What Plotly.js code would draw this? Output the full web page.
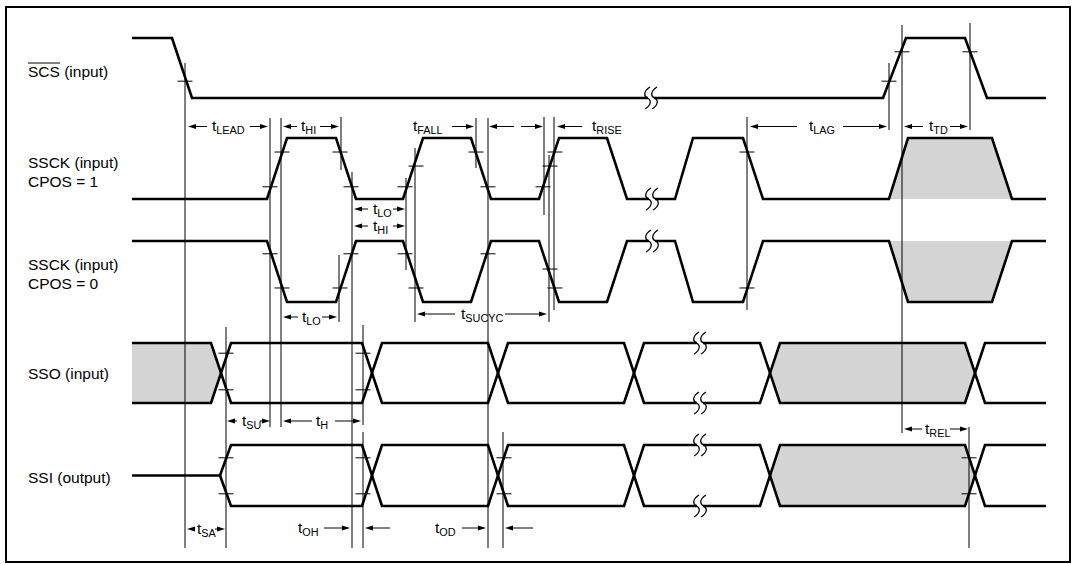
<!DOCTYPE html>
<html>
<head>
<meta charset="utf-8">
<script src="https://cdn.plot.ly/plotly-3.0.1.min.js"></script>
<style>html,body{margin:0;padding:0;background:#fff;}#chart{width:1076px;height:564px;}</style>
</head>
<body>
<div id="chart"></div>
<script>
// ================= DATA (times on the horizontal time axis, logic levels) =================
const scsTimes    = [132, 172, 192, 883, 906, 965, 987, 1046];
const scsLevels   = [1, 1, 0, 0, 1, 1, 0, 0];

const ssckTimes   = [132, 267, 287, 336, 356, 403, 423, 471, 491, 539, 559, 607, 627, 675, 693, 743, 763, 889, 908, 992, 1012, 1046];
const ssck1Levels = [0, 0, 1, 1, 0, 0, 1, 1, 0, 0, 1, 1, 0, 0, 1, 1, 0, 0, 1, 1, 0, 0];
const ssck0Levels = [1, 1, 0, 0, 1, 1, 0, 0, 1, 1, 0, 0, 1, 1, 0, 0, 1, 1, 0, 0, 1, 1];
const ssckShadeFrom = 889, ssckShadeTo = 1012;          // don't-care clock pulse

const busStart = 132, busEnd = 1046;
const ssoCross  = [211, 362, 488, 624, 760, 965];        // start of each data change
const ssoShaded = [1, 0, 0, 0, 0, 1, 0];                 // per data segment
const ssiLeaveZ = 220;                                   // SSI leaves high impedance
const ssiCross  = [362, 488, 624, 760, 965];
const ssiShaded = [0, 0, 0, 0, 1, 0];

const breakTimes = [651, 652, 652, 700, 700, 700, 700];
const breakRows  = ['scs', 'ssck1', 'ssck0', 'sso', 'sso', 'ssi', 'ssi'];
const breakLevel = [0, 0, 1, 1, 0, 1, 0];

const signalNames = ['SCS (input)', 'SSCK (input)', 'CPOS = 1', 'SSCK (input)', 'CPOS = 0', 'SSO (input)', 'SSI (output)'];

// threshold crossing marks: time, row, threshold
const markTimes = [185, 889, 902, 970,
  270, 282, 340, 351, 405, 416, 476, 488, 543, 550, 555, 747,
  270, 282, 340, 351, 405, 416, 488, 550, 555, 747,
  226, 226, 363, 363,
  226, 226, 363, 363, 504, 504, 969, 969];
const markRows = ['scs','scs','scs','scs',
  'ssck1','ssck1','ssck1','ssck1','ssck1','ssck1','ssck1','ssck1','ssck1','ssck1','ssck1','ssck1',
  'ssck0','ssck0','ssck0','ssck0','ssck0','ssck0','ssck0','ssck0','ssck0','ssck0',
  'sso','sso','sso','sso',
  'ssi','ssi','ssi','ssi','ssi','ssi','ssi','ssi'];
const markTh = ['L','L','H','H',
  'L','H','H','L','L','M','H','L','L','M','H','H',
  'H','L','L','H','H','L','H','M','L','L',
  'H','L','H','L',
  'H','L','H','L','H','L','H','L'];

// timing reference lines (times)
const refTimes = [185, 270, 281, 341, 352, 339, 406, 363, 363, 415, 476, 488, 544, 549, 554, 747, 889, 902, 970, 226, 503, 969];

// timing parameters: label subscript, arrow pairs [tail, tip]
const paramNames = ['LEAD', 'HI', 'FALL', 'RISE', 'LAG', 'TD', 'LO', 'HI', 'LO', 'SUCYC', 'SU', 'H', 'REL', 'SA', 'OH', 'OD'];
const paramArrows = [
  [[207, 188], [250, 268]],
  [[297, 283], [320, 339]],
  [[452, 474], [514, 489], [521, 543]],
  [[582, 557]],
  [[797, 750], [843, 887]],
  [[923, 904], [950, 968]],
  [[368, 354], [393, 405]],
  [[368, 354], [393, 405]],
  [[298, 283], [322, 337]],
  [[455, 417], [505, 547]],
  [[237, 227], [260, 270]],
  [[312, 283], [335, 361]],
  [[922, 904], [950, 968]],
  [[195, 187], [215, 225]],
  [[324, 350], [390, 365]],
  [[462, 486], [533, 505]]
];

// ================= LAYOUT / STYLE (positions in the drawing) =================
const rows = {scs: [38, 98], ssck1: [138, 199], ssck0: [241, 302], sso: [343, 403], ssi: [445, 506]};
const thFrac = {
  scs:   {H: 0.77, M: 0.5, L: 0.28},
  ssck1: {H: 0.77, M: 0.54, L: 0.2},
  ssck0: {H: 0.79, M: 0.54, L: 0.23},
  sso:   {H: 0.83, M: 0.5, L: 0.22},
  ssi:   {H: 0.79, M: 0.5, L: 0.2}
};
const refSpans = [[63,548],[118,427],[118,427],[117,170],[172,548],[255,322],[178,270],[325,425],[432,548],[148,322],[118,168],[118,548],[117,215],[155,322],[117,310],[117,310],[63,130],[25,433],[23,130],[327,548],[432,548],[427,548]];
const paramLabelX = [228, 308.5, 428, 606.5, 821.5, 938, 382, 380, 311.5, 482, 251, 322, 937.5, 206.5, 308.5, 445.5];
const paramRowY   = [126.5, 126.5, 126.5, 126.5, 126.5, 126.5, 209, 226, 317, 314, 421, 421, 429, 529, 528, 528];
const nameX = 26;
const nameY = [71, 162, 181, 264, 283, 373, 477];

const BLACK = '#000';
const GRAY = '#d4d4d4';
const WAVE_W = 2.6;
const FONT_FAMILY = 'Liberation Sans, Arial, Helvetica, sans-serif';
const EDGE = 20;

function lvY(rowKey, v) { const r = rows[rowKey]; return v ? r[0] : r[1]; }
function thY(rowKey, th) { const r = rows[rowKey]; return r[1] - thFrac[rowKey][th] * (r[1] - r[0]); }

const traces = [];
const shapes = [];
const annotations = [];

// ---------- shaded regions ----------
function ssckShade(levels, rowKey) {
  const x = [], y = [];
  ssckTimes.forEach((t, i) => { if (t >= ssckShadeFrom && t <= ssckShadeTo) { x.push(t); y.push(lvY(rowKey, levels[i])); } });
  traces.push({x, y, mode: 'lines', fill: 'toself', fillcolor: GRAY, line: {width: 0, color: GRAY}, hoverinfo: 'skip'});
}
ssckShade(ssck1Levels, 'ssck1');
ssckShade(ssck0Levels, 'ssck0');

function busShade(cross, shaded, rowKey, segStart) {
  const [hi, lo] = rows[rowKey]; const mid = (hi + lo) / 2;
  shaded.forEach((s, i) => {
    if (!s) return;
    const x = [], y = [];
    if (i === 0) { x.push(segStart); y.push(hi); }
    else { x.push(cross[i-1] + EDGE/2, cross[i-1] + EDGE); y.push(mid, hi); }
    if (i === cross.length) { x.push(busEnd, busEnd); y.push(hi, lo); }
    else { x.push(cross[i], cross[i] + EDGE/2, cross[i]); y.push(hi, mid, lo); }
    if (i === 0) { x.push(segStart); y.push(lo); }
    else { x.push(cross[i-1] + EDGE); y.push(lo); }
    traces.push({x, y, mode: 'lines', fill: 'toself', fillcolor: GRAY, line: {width: 0, color: GRAY}, hoverinfo: 'skip'});
  });
}
busShade(ssoCross, ssoShaded, 'sso', busStart);
busShade(ssiCross, ssiShaded, 'ssi', busStart);

// ---------- waveforms ----------
function wave(times, levels, rowKey) {
  traces.push({x: times, y: levels.map(v => lvY(rowKey, v)), mode: 'lines',
    line: {color: BLACK, width: WAVE_W}, hoverinfo: 'skip'});
}
wave(scsTimes, scsLevels, 'scs');
wave(ssckTimes, ssck1Levels, 'ssck1');
wave(ssckTimes, ssck0Levels, 'ssck0');

function bus(cross, rowKey, zAt) {
  const [hi, lo] = rows[rowKey]; const mid = (hi + lo) / 2;
  const A = {x: [], y: []}, B = {x: [], y: []};
  let a = hi, b = lo;
  if (zAt != null) {
    A.x.push(busStart, zAt, zAt + 11); A.y.push(mid, mid, hi);
    B.x.push(zAt, zAt + 11); B.y.push(mid, lo);
  } else {
    A.x.push(busStart); A.y.push(hi); B.x.push(busStart); B.y.push(lo);
  }
  cross.forEach(c => {
    A.x.push(c, c + EDGE); A.y.push(a, b);
    B.x.push(c, c + EDGE); B.y.push(b, a);
    const t = a; a = b; b = t;
  });
  A.x.push(busEnd); A.y.push(a); B.x.push(busEnd); B.y.push(b);
  [A, B].forEach(p => traces.push({x: p.x, y: p.y, mode: 'lines', line: {color: BLACK, width: WAVE_W}, hoverinfo: 'skip'}));
}
bus(ssoCross, 'sso', null);
bus(ssiCross, 'ssi', ssiLeaveZ);

// ---------- reference lines ----------
refTimes.forEach((t, i) => {
  shapes.push({type: 'line', xref: 'x', yref: 'y', x0: t, x1: t, y0: refSpans[i][0], y1: refSpans[i][1],
    line: {color: BLACK, width: 1}});
});

// ---------- threshold marks ----------
markTimes.forEach((t, i) => {
  const y = thY(markRows[i], markTh[i]);
  shapes.push({type: 'line', xref: 'x', yref: 'y', x0: t - 7.5, x1: t + 7.5, y0: y, y1: y,
    line: {color: BLACK, width: 1}});
});

// ---------- break symbols ----------
function sPath(x0, y0) {
  return `M ${x0+2.5},${y0-11} C ${x0-4},${y0-7} ${x0-4},${y0-2} ${x0},${y0} C ${x0+4},${y0+2} ${x0+4},${y0+7} ${x0-2.5},${y0+11}`;
}
breakTimes.forEach((t, i) => {
  const y = lvY(breakRows[i], breakLevel[i]);
  shapes.push({type: 'rect', xref: 'x', yref: 'y', x0: t - 3, x1: t + 3, y0: y - 2.5, y1: y + 2.5,
    fillcolor: '#fff', line: {width: 0}});
  shapes.push({type: 'path', xref: 'x', yref: 'y', path: sPath(t - 3.5, y), line: {color: BLACK, width: 1.3}});
  shapes.push({type: 'path', xref: 'x', yref: 'y', path: sPath(t + 3.5, y), line: {color: BLACK, width: 1.3}});
});

// ---------- timing parameter arrows and labels ----------
paramArrows.forEach((list, i) => {
  const y = paramRowY[i];
  list.forEach(([tail, tip]) => {
    const d = tip > tail ? 1 : -1;
    shapes.push({type: 'line', xref: 'x', yref: 'y', x0: tail, x1: tip - d * 4, y0: y, y1: y, line: {color: BLACK, width: 1}});
    shapes.push({type: 'path', xref: 'x', yref: 'y',
      path: `M ${tip},${y} L ${tip - d * 8},${y - 2.6} L ${tip - d * 8},${y + 2.6} Z`,
      fillcolor: BLACK, line: {width: 0}});
  });
  annotations.push({x: paramLabelX[i], y: y, xref: 'x', yref: 'y', showarrow: false,
    text: 't<sub>' + paramNames[i] + '</sub>', xanchor: 'center', yanchor: 'middle',
    font: {family: FONT_FAMILY, size: 15.5, color: BLACK}});
});

// ---------- signal names ----------
signalNames.forEach((s, i) => {
  annotations.push({x: nameX, y: nameY[i], xref: 'x', yref: 'y', showarrow: false, text: s,
    xanchor: 'left', yanchor: 'middle', font: {family: FONT_FAMILY, size: 15.5, color: BLACK}});
});
// overline on SCS (active low)
shapes.push({type: 'line', xref: 'x', yref: 'y', x0: 28, x1: 60, y0: 63, y1: 63, line: {color: BLACK, width: 1}});

// ---------- frame ----------
shapes.push({type: 'rect', xref: 'x', yref: 'y', x0: 6, x1: 1070, y0: 7, y1: 562, line: {color: BLACK, width: 2}, fillcolor: 'rgba(0,0,0,0)'});

const layout = {
  width: 1076, height: 564,
  margin: {l: 0, r: 0, t: 0, b: 0, pad: 0},
  paper_bgcolor: '#fff', plot_bgcolor: '#fff',
  showlegend: false, hovermode: false,
  xaxis: {range: [0, 1076], visible: false, fixedrange: true},
  yaxis: {range: [564, 0], visible: false, fixedrange: true},
  shapes, annotations
};
Plotly.newPlot('chart', traces, layout, {staticPlot: true, displayModeBar: false});
</script>
</body>
</html>
